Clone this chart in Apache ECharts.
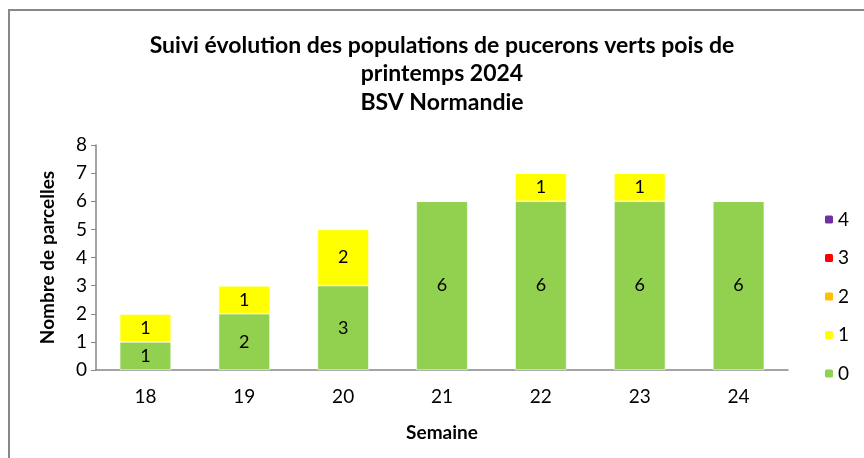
<!DOCTYPE html>
<html>
<head>
<meta charset="utf-8">
<script src="https://cdn.jsdelivr.net/npm/echarts@6/dist/echarts.min.js"></script>
<style>
  html, body { margin: 0; padding: 0; background: #fff; }
  #chart { width: 864px; height: 458px; }
</style>
</head>
<body>
<div id="chart"></div>
<script>
// semaines
const semaines = ['18', '19', '20', '21', '22', '23', '24'];
// nombre de parcelles par classe
const classe0 = [1, 2, 3, 6, 6, 6, 6];
const classe1 = [1, 1, 2, 0, 1, 1, 0];
const classe2 = [0, 0, 0, 0, 0, 0, 0];
const classe3 = [0, 0, 0, 0, 0, 0, 0];
const classe4 = [0, 0, 0, 0, 0, 0, 0];
const yTicks = [0, 1, 2, 3, 4, 5, 6, 7, 8];

const font = 'Lato, "Open Sans", sans-serif';
const axisGray = '#868686';

var myChart = echarts.init(document.getElementById('chart'));

function serie(name, data, color) {
    return {
        name: name,
        type: 'bar',
        stack: 'total',
        barWidth: '52%',
        data: data,
        itemStyle: { color: color, borderColor: '#ffffff', borderWidth: 0.6 },
        label: {
            show: true,
            position: 'inside',
            color: '#000',
            fontFamily: font,
            fontSize: 18,
            formatter: function (p) { return p.value ? String(p.value) : ''; }
        }
    };
}

var option = {
    animation: false,
    backgroundColor: '#fff',
    graphic: [{
        type: 'rect',
        shape: { x: 9, y: 10, width: 900, height: 500 },
        style: { fill: 'none', stroke: '#888888', lineWidth: 2 },
        silent: true
    }],
    title: {
        text: 'Suivi évolution des populations de pucerons verts pois de\nprintemps 2024\nBSV Normandie',
        left: 437,
        top: 26,
        textAlign: 'center',
        textStyle: {
            fontFamily: font,
            fontWeight: 'bold',
            fontSize: 23,
            lineHeight: 28.5,
            color: '#000'
        }
    },
    legend: {
        orient: 'vertical',
        left: 818,
        top: 205,
        itemWidth: 10,
        itemHeight: 10,
        itemGap: 19.5,
        data: ['4', '3', '2', '1', '0'],
        textStyle: { fontFamily: font, fontSize: 19, color: '#000', padding: [0, 0, 0, -1] }
    },
    grid: {
        left: 96,
        right: 76,
        top: 145,
        bottom: 88,
        containLabel: false
    },
    xAxis: {
        type: 'category',
        data: semaines,
        name: 'Semaine',
        nameLocation: 'middle',
        nameGap: 53,
        nameTextStyle: { fontFamily: font, fontWeight: 'bold', fontSize: 19, color: '#000' },
        axisLine: { lineStyle: { color: axisGray, width: 1.5 } },
        axisTick: { show: false },
        axisLabel: { fontFamily: font, fontSize: 19, color: '#000', margin: 17 }
    },
    yAxis: {
        type: 'value',
        min: yTicks[0],
        max: yTicks[yTicks.length - 1],
        interval: 1,
        name: 'Nombre de parcelles',
        nameLocation: 'middle',
        nameGap: 39,
        nameTextStyle: { fontFamily: font, fontWeight: 'bold', fontSize: 19, color: '#000' },
        splitLine: { show: false },
        axisLine: { show: true, lineStyle: { color: axisGray, width: 1.5 } },
        axisTick: { show: true, length: 5, lineStyle: { color: axisGray } },
        axisLabel: { fontFamily: font, fontSize: 19, color: '#000', margin: 9 }
    },
    series: [
        serie('0', classe0, '#92D050'),
        serie('1', classe1, '#FFFF00'),
        serie('2', classe2, '#FFC000'),
        serie('3', classe3, '#FF0000'),
        serie('4', classe4, '#7030A0')
    ]
};
myChart.setOption(option);
</script>
</body>
</html>
